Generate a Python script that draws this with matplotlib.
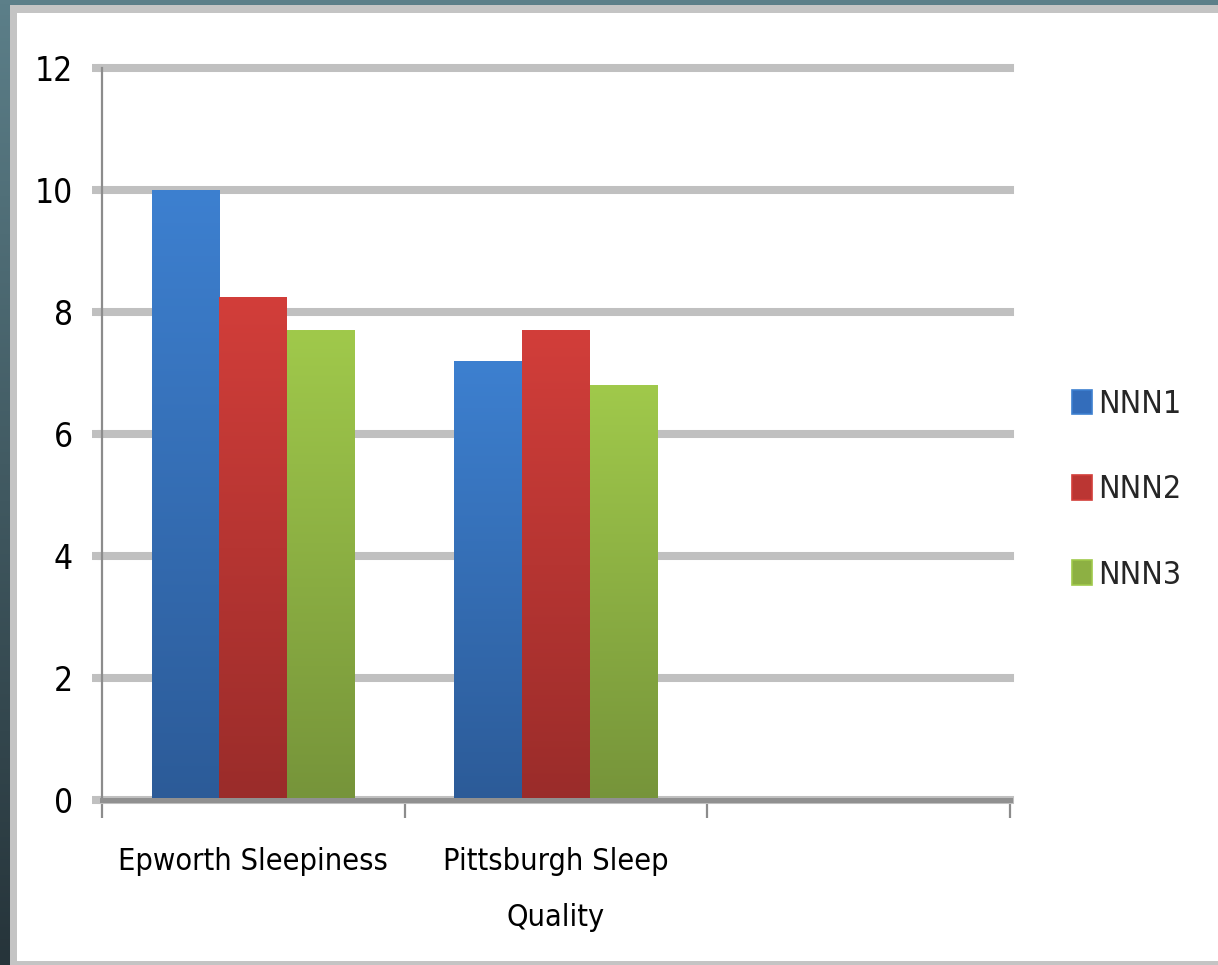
import numpy as np
import matplotlib
matplotlib.use('Agg')
import matplotlib.pyplot as plt
from matplotlib.patches import Rectangle, Patch
from matplotlib.colors import LinearSegmentedColormap

# scores per questionnaire (third slot on the axis is left empty)
categories = ['Epworth Sleepiness', 'Pittsburgh Sleep\nQuality', '']
series_names = ['NNN1', 'NNN2', 'NNN3']
nnn1 = [10.0, 7.2]
nnn2 = [8.25, 7.7]
nnn3 = [7.7, 6.8]
y_ticks = [0, 2, 4, 6, 8, 10, 12]

# (top, bottom) colours for the gradient fill of each series
fills = [('#3d80d0', '#2c5b98'), ('#d23e3a', '#9a2c2a'), ('#a0c94b', '#76943a')]

plt.rcParams['font.family'] = ['DejaVu Sans']
plt.rcParams['font.stretch'] = 'condensed'
plt.rcParams['text.color'] = '#262626'

W, H = 1218, 965
fig = plt.figure(figsize=(W / 100, H / 100), dpi=100)

# slide background behind the chart panel
bg = fig.add_axes([0, 0, 1, 1], zorder=-10)
grad = np.linspace(0, 1, 256).reshape(-1, 1)
bg_cmap = LinearSegmentedColormap.from_list('bg', ['#26343a', '#5c7f89'])
bg.imshow(grad, cmap=bg_cmap, aspect='auto', origin='lower', extent=(0, W, 0, H))
bg.add_patch(Rectangle((10, 0), W - 10, H - 5, facecolor='#c4c4c4', edgecolor='none'))
bg.add_patch(Rectangle((17, 4), W - 17, H - 17, facecolor='white', edgecolor='none'))
bg.set_xlim(0, W)
bg.set_ylim(0, H)
bg.axis('off')

ax = fig.add_axes([102 / W, 165 / H, 908 / W, 732 / H])
ax.set_facecolor('none')

x = np.arange(len(nnn1))
width = 0.224
values = [nnn1, nnn2, nnn3]
for i, (vals, (top, bottom)) in enumerate(zip(values, fills)):
    bars = ax.bar(x + (i - 1) * width, vals, width, color=bottom, edgecolor='none', zorder=3)
    cmap = LinearSegmentedColormap.from_list('g%d' % i, [bottom, top])
    for b in bars:
        x0, w, h = b.get_x(), b.get_width(), b.get_height()
        im = ax.imshow(grad, cmap=cmap, aspect='auto', origin='lower',
                       extent=(x0, x0 + w, 0, h), zorder=4)
        im.set_clip_path(b)

ax.set_xlim(-0.5, len(categories) - 0.5)
ax.set_ylim(0, 12)

# horizontal grid
ax.set_yticks(y_ticks)
ax.set_axisbelow(True)
ax.yaxis.grid(True, color='#c0c0c0', linewidth=5.8)
for gl in ax.get_ygridlines():
    gl.set_clip_on(False)
ax.tick_params(axis='y', length=7, width=5.8, color='#c0c0c0', pad=14, labelsize=24)

# category labels between the boundary ticks
ax.set_xticks(np.arange(len(categories)))
ax.set_xticklabels(categories, linespacing=2.15)
ax.set_xticks(np.arange(len(categories) + 1) - 0.5, minor=True)
ax.tick_params(axis='x', which='major', length=0, pad=34, labelsize=22)
ax.tick_params(axis='x', which='minor', length=13, width=1.6, color='#8c8c8c')

for s in ['top', 'right']:
    ax.spines[s].set_visible(False)
ax.spines['left'].set_color('#8c8c8c')
ax.spines['left'].set_linewidth(1.6)
ax.spines['bottom'].set_color('#909090')
ax.spines['bottom'].set_linewidth(3.6)
ax.spines['bottom'].set_zorder(5)

handles = [Patch(facecolor=c, edgecolor=t, linewidth=1.2) for (t, b), c in
           zip(fills, ['#336dbb', '#bb3633', '#8db043'])]
ax.legend(handles, series_names, loc='center left', bbox_to_anchor=(1.068, 0.4235),
          frameon=False, fontsize=23, borderpad=0, borderaxespad=0,
          handlelength=0.62, handleheight=0.8, handletextpad=0.2, labelspacing=1.7)

fig.savefig('out.png', dpi=100)
